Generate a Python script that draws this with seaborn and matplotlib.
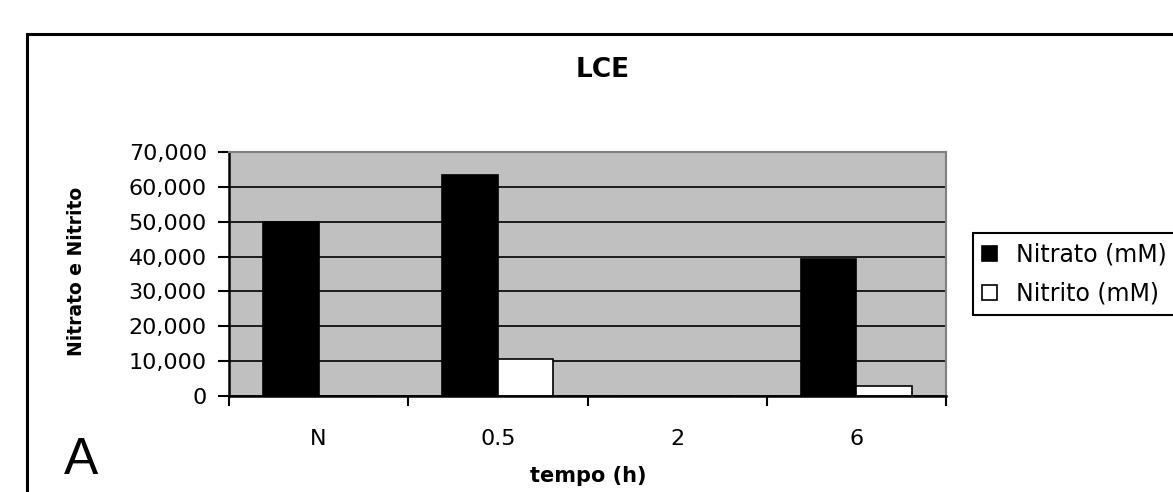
import numpy as np
import pandas as pd
import matplotlib
matplotlib.use("Agg")
import matplotlib.pyplot as plt
import seaborn as sns
from matplotlib.patches import Rectangle, Patch
from matplotlib.ticker import FuncFormatter, FixedLocator

categories = ["N", "0.5", "2", "6"]
nitrato = [50000, 63300, 0, 39300]
nitrito = [0, 10700, 0, 2900]
series_names = ["Nitrato (mM)", "Nitrito (mM)"]
yticks = [0, 10000, 20000, 30000, 40000, 50000, 60000, 70000]

df = pd.DataFrame({
    "tempo": categories * 2,
    "valor": nitrato + nitrito,
    "serie": [series_names[0]] * len(categories) + [series_names[1]] * len(categories),
})

sns.set_theme(style="white")
plt.rcParams["font.family"] = ["DejaVu Sans"]
plt.rcParams["text.color"] = "black"
plt.rcParams["legend.labelcolor"] = "black"

W, H = 1173, 492
fig = plt.figure(figsize=(W / 100, H / 100), dpi=100)
ax = fig.add_axes([229 / W, 1 - 396 / H, (946 - 229) / W, (396 - 152) / H])
ax.set_facecolor("#C0C0C0")

sns.barplot(data=df, x="tempo", y="valor", hue="serie", order=categories,
            hue_order=series_names, palette=["black", "white"], width=0.62,
            edgecolor="black", linewidth=1.2, errorbar=None, legend=False,
            saturation=1, ax=ax)

ax.set_ylim(0, 70000)
ax.set_xlim(-0.5, len(categories) - 0.5)
ax.set_axisbelow(True)
ax.yaxis.set_major_locator(FixedLocator(yticks))
ax.yaxis.set_major_formatter(FuncFormatter(lambda v, p: f"{v:,.0f}"))
ax.grid(axis="y", color="black", linewidth=1.2)
ax.grid(axis="x", visible=False)
ax.tick_params(axis="y", which="major", left=True, direction="out", length=8,
               width=1.5, color="black", labelsize=16, pad=8, labelcolor="black")
ax.set_xticks(range(len(categories)))
ax.set_xticklabels(categories)
ax.set_xticks(np.arange(-0.5, len(categories), 1.0), minor=True)
ax.tick_params(axis="x", which="major", length=0, labelsize=16, pad=24, labelcolor="black")
ax.tick_params(axis="x", which="minor", bottom=True, direction="out", length=7,
               width=1.5, color="black")
ax.set_xlabel("")
ax.set_ylabel("")
for s in ["left", "bottom"]:
    ax.spines[s].set_color("black")
    ax.spines[s].set_linewidth(1.8)
for s in ["top", "right"]:
    ax.spines[s].set_color("#808080")
    ax.spines[s].set_linewidth(1.5)
    ax.spines[s].set_visible(True)

# outer frame
fig.patches.append(Rectangle((27 / W, -0.1), 1.2, 1 - 34 / H + 0.1, transform=fig.transFigure,
                             fill=False, edgecolor="black", linewidth=2.2, zorder=0))

fig.text(603 / W, 1 - 70 / H, "LCE", ha="center", va="center", fontsize=19,
         fontweight="bold", color="black")
fig.text(77 / W, 1 - 271 / H, "Nitrato e Nitrito", ha="center", va="center",
         rotation=90, fontsize=13.5, fontweight="bold", color="black")
fig.text(588 / W, 1 - 476 / H, "tempo (h)", ha="center", va="center", fontsize=15,
         fontweight="bold", color="black")
fig.text(81 / W, 1 - 461 / H, "A", ha="center", va="center", fontsize=37, color="black",
         family=["Liberation Sans", "DejaVu Sans"])

handles = [Patch(facecolor="black", edgecolor="black", linewidth=1.2),
           Patch(facecolor="white", edgecolor="black", linewidth=1.2)]
leg = fig.legend(handles, series_names, loc="upper left",
                 bbox_to_anchor=(973 / W, 1 - 233 / H), borderaxespad=0,
                 fontsize=17, frameon=True, fancybox=False, framealpha=1,
                 handlelength=0.6, handleheight=0.6, handletextpad=0.8,
                 labelspacing=0.65, borderpad=0.4)
leg.get_frame().set_edgecolor("black")
leg.get_frame().set_linewidth(1.5)

fig.savefig("out.png", dpi=100)
